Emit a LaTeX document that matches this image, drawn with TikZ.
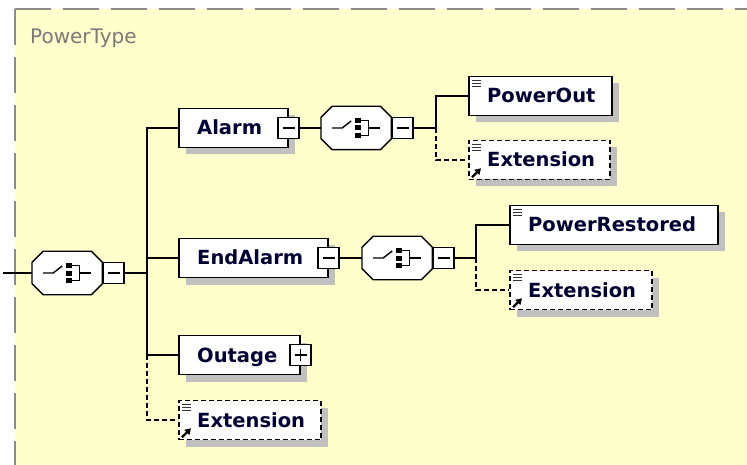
\documentclass[tikz,border=0pt]{standalone}
\usepackage{fontspec}
\setmainfont{DejaVu Sans}
\usetikzlibrary{arrows.meta,shadows}
\definecolor{bgyellow}{HTML}{FFFFCC}
\definecolor{bordergray}{HTML}{8C8C8C}
\definecolor{shadowgray}{HTML}{C0C0C0}
\definecolor{labelblue}{HTML}{000033}
\definecolor{titlegray}{HTML}{7A7A7A}
\newcommand\octagonshape[1]{%
  \fill[shadowgray,shift={(7,7)}] ([xshift=11pt]#1.north west) -- ([xshift=-11pt]#1.north east) -- ([yshift=-11pt]#1.north east) -- ([yshift=11pt]#1.south east) -- ([xshift=-11pt]#1.south east) -- ([xshift=11pt]#1.south west) -- ([yshift=11pt]#1.south west) -- ([yshift=-11pt]#1.north west) -- cycle;
  \filldraw[fill=white,draw=black,line width=1.4pt] ([xshift=11pt]#1.north west) -- ([xshift=-11pt]#1.north east) -- ([yshift=-11pt]#1.north east) -- ([yshift=11pt]#1.south east) -- ([xshift=-11pt]#1.south east) -- ([xshift=11pt]#1.south west) -- ([yshift=11pt]#1.south west) -- ([yshift=-11pt]#1.north west) -- cycle;
  \begin{scope}[shift={(#1.center)},line width=1.4pt]
    \draw (-24,0) -- (-14,0) -- (-5,-7);
    \fill (-1,-10) rectangle (5,-5);
    \fill (-1,-2.5) rectangle (5,2.5);
    \fill (-1,5) rectangle (5,10);
    \draw (5,-7.5) -- (12,-7.5) -- (12,7.5) -- (5,7.5);
    \draw (12,0) -- (24,0);
  \end{scope}}
\newcommand\lineicon[1]{%
  \foreach \dy in {5,8,11}{\draw[line width=1pt,black!80] ([shift={(4,\dy)}]#1.north west) -- ([shift={(13,\dy)}]#1.north west);}}
\newcommand\refarrow[1]{%
  \draw[line width=2.2pt,-{Triangle[length=6pt,width=7pt]}] ([shift={(4,-3)}]#1.south west) -- ([shift={(13,-12)}]#1.south west);}
\begin{document}
\begin{tikzpicture}[x=1pt,y=-1pt,
  elbox/.style={draw=black,line width=1.5pt,fill=white,minimum height=39pt,inner sep=0pt,anchor=west,
    drop shadow={shadow xshift=7pt,shadow yshift=-7pt,fill=shadowgray,opacity=1}},
  optbox/.style={elbox,dash pattern=on 5pt off 3pt},
  compbox/.style={draw=none,minimum width=70pt,minimum height=43pt,inner sep=0pt,anchor=west},
  expbox/.style={draw=black,line width=1.4pt,fill=white,minimum width=21pt,minimum height=21pt,inner sep=0pt},
  lbl/.style={font=\fontsize{19.5pt}{22pt}\selectfont\bfseries,text=labelblue,inner sep=0pt,anchor=base west},
  conn/.style={line width=1.5pt},
  dconn/.style={line width=1.5pt,dash pattern=on 5pt off 3pt}]
\useasboundingbox (0,0) rectangle (747,465);
\fill[bgyellow] (15,9) rectangle (747,465);
\draw[bordergray,line width=2pt,dash pattern=on 36pt off 12pt] (15,9) -- (747,9);
\draw[bordergray,line width=2pt,dash pattern=on 36pt off 12pt] (15,9) -- (15,465);
\node[anchor=base west,inner sep=0pt,text=titlegray,font=\fontsize{20pt}{24pt}\selectfont] (title) at (30,44) {PowerType};

% root compositor
\coordinate (start) at (3,273);
\node[compbox] (c0) at (32,273) {};
\octagonshape{c0}
\node[expbox,anchor=west] (m0) at (c0.east) {};
\draw[line width=1.3pt] ([xshift=-6pt]m0.center) -- ([xshift=6pt]m0.center);
\draw[conn] (start) -- (c0.west);

% level 1 elements
\node[elbox,minimum width=109pt] (alarm) at (178,128) {};
\node[lbl] (alarmT) at (197,135) {Alarm};
\node[expbox] (malarm) at (alarm.east) {};
\draw[line width=1.3pt] ([xshift=-6pt]malarm.center) -- ([xshift=6pt]malarm.center);

\node[elbox,minimum width=149pt] (endalarm) at (178,258) {};
\node[lbl] (endalarmT) at (197,265) {EndAlarm};
\node[expbox] (mendalarm) at (endalarm.east) {};
\draw[line width=1.3pt] ([xshift=-6pt]mendalarm.center) -- ([xshift=6pt]mendalarm.center);

\node[elbox,minimum width=121pt] (outage) at (178,355) {};
\node[lbl] (outageT) at (197,362) {Outage};
\node[expbox] (poutage) at (outage.east) {};
\draw[line width=1.3pt] ([xshift=-6pt]poutage.center) -- ([xshift=6pt]poutage.center);
\draw[line width=1.3pt] ([yshift=-6pt]poutage.center) -- ([yshift=6pt]poutage.center);

\node[optbox,minimum width=142pt] (ext0) at (178,420) {};
\node[lbl] (ext0T) at (197,427) {Extension};
\lineicon{ext0}
\refarrow{ext0}

\coordinate (tA) at (147,128);
\coordinate (tR) at (147,273);
\coordinate (tD) at (147,258);
\coordinate (tO) at (147,355);
\coordinate (tE) at (147,420);
\draw[conn] (m0.east) -- (tR);
\draw[conn] (alarm.west) -- (tA) -- (tO) -- (outage.west);
\draw[conn] (tD) -- (endalarm.west);
\draw[dconn] (tO) -- (tE) -- (ext0.west);

% Alarm sequence
\node[compbox] (c1) at (321,128) {};
\octagonshape{c1}
\node[expbox,anchor=west] (m1) at (c1.east) {};
\draw[line width=1.3pt] ([xshift=-6pt]m1.center) -- ([xshift=6pt]m1.center);
\draw[conn] (malarm.east) -- (c1.west);

\node[elbox,minimum width=143pt] (powerout) at (468,96) {};
\node[lbl] (poweroutT) at (487,103) {PowerOut};
\lineicon{powerout}
\node[optbox,minimum width=141pt] (ext1) at (468,160) {};
\node[lbl] (ext1T) at (487,167) {Extension};
\lineicon{ext1}
\refarrow{ext1}
\coordinate (u1) at (436,96);
\coordinate (u1m) at (436,128);
\coordinate (u1e) at (436,160);
\draw[conn] (m1.east) -- (u1m) -- (u1) -- (powerout.west);
\draw[dconn] (u1m) -- (u1e) -- (ext1.west);

% EndAlarm sequence
\node[compbox] (c2) at (362,258) {};
\octagonshape{c2}
\node[expbox,anchor=west] (m2) at (c2.east) {};
\draw[line width=1.3pt] ([xshift=-6pt]m2.center) -- ([xshift=6pt]m2.center);
\draw[conn] (mendalarm.east) -- (c2.west);

\node[elbox,minimum width=208pt] (restored) at (509,225) {};
\node[lbl] (restoredT) at (528,232) {PowerRestored};
\lineicon{restored}
\node[optbox,minimum width=142pt] (ext2) at (509,290) {};
\node[lbl] (ext2T) at (528,297) {Extension};
\lineicon{ext2}
\refarrow{ext2}
\coordinate (u2) at (476,225);
\coordinate (u2m) at (476,258);
\coordinate (u2e) at (476,290);
\draw[conn] (m2.east) -- (u2m) -- (u2) -- (restored.west);
\draw[dconn] (u2m) -- (u2e) -- (ext2.west);
\end{tikzpicture}
\end{document}
